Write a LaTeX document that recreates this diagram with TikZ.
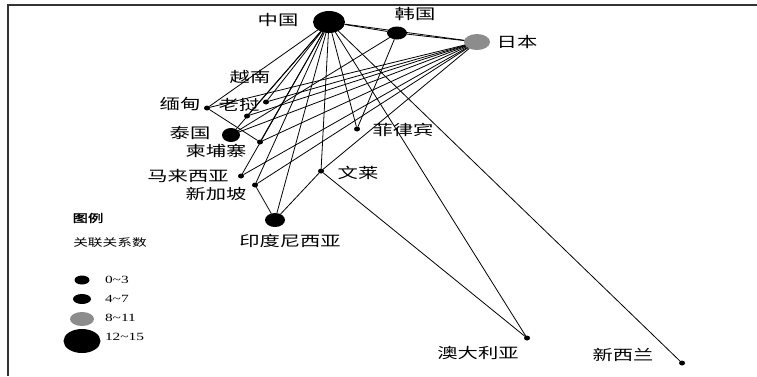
\documentclass[tikz,border=0pt]{standalone}
\usepackage{fontspec}
\setmainfont{Liberation Serif}
\newfontfamily\cjk[FakeStretch=1.4]{Noto Sans CJK SC}
\newfontfamily\cjkbold[FakeStretch=1.4,FakeBold=2]{Noto Sans CJK SC}
\newfontfamily\numf[FakeStretch=1.4]{Liberation Serif}
\usetikzlibrary{shapes.geometric}
\definecolor{jpgray}{RGB}{140,140,140}
\begin{document}
\begin{tikzpicture}[x=1pt,y=-1pt,
  every node/.style={inner sep=0pt,outer sep=0pt},
  blob/.style={ellipse,fill=black,draw=none},
  huge/.style={blob,minimum width=32pt,minimum height=22pt},
  mid/.style={blob,minimum width=19pt,minimum height=13pt},
  grayb/.style={blob,fill=jpgray,minimum width=26pt,minimum height=16pt},
  dot/.style={blob,minimum width=6pt,minimum height=5pt},
  lbl/.style={font=\cjk\fontsize{14.5}{15}\selectfont},
  leg/.style={font=\cjk\fontsize{10.5}{11}\selectfont},
  num/.style={font=\numf\fontsize{11}{12}\selectfont,anchor=west},
  link/.style={line width=0.8pt,black}]
\useasboundingbox (0,0) rectangle (757,376);
\fill[white] (0,0) rectangle (757,376);
% frame
\draw[line width=1.5pt,black!80] (8,376) -- (8,5) -- (757,5);
% nodes
\node[huge] (zg) at (329,22) {};
\node[mid,minimum width=20pt,minimum height=13pt] (hg) at (397,33) {};
\node[grayb] (rb) at (477,42) {};
\node[dot] (yn) at (266,102) {};
\node[dot] (lw) at (247,116) {};
\node[dot] (md) at (207,108) {};
\node[mid,minimum width=18pt,minimum height=14pt] (tg) at (231,135) {};
\node[dot] (jpz) at (260,142) {};
\node[dot] (mlxy) at (241,176) {};
\node[dot] (xjp) at (255,185) {};
\node[mid,minimum width=20pt,minimum height=14pt] (ydnxy) at (275,220) {};
\node[dot] (flb) at (357,129) {};
\node[dot] (wl) at (321,171) {};
\node[dot] (adly) at (527,338) {};
\node[dot] (xxl) at (682,363) {};
% connectors
\foreach \a/\b in {zg/hg,zg/rb,hg/rb,
  zg/md,zg/yn,zg/lw,zg/tg,zg/jpz,zg/mlxy,zg/xjp,zg/ydnxy,zg/wl,zg/flb,zg/adly,zg/xxl,
  rb/md,rb/yn,rb/lw,rb/tg,rb/jpz,rb/mlxy,rb/xjp,rb/wl,
  hg/tg,hg/flb,md/jpz,ydnxy/xjp,ydnxy/wl,wl/adly}
  \draw[link] (\a) -- (\b);
% labels
\node[lbl] (tzg) at (278,20) {中国};
\node[lbl] (thg) at (415,14) {韩国};
\node[lbl] (trb) at (517,42) {日本};
\node[lbl] (tyn) at (250,77) {越南};
\node[lbl] (tlw) at (239,105) {老挝};
\node[lbl] (tmd) at (180,104) {缅甸};
\node[lbl] (ttg) at (190,133) {泰国};
\node[lbl] (tjpz) at (216,151) {柬埔寨};
\node[lbl] (tmlxy) at (188,176) {马来西亚};
\node[lbl] (txjp) at (216,194) {新加坡};
\node[lbl] (tydnxy) at (290,241) {印度尼西亚};
\node[lbl] (tflb) at (403,130) {菲律宾};
\node[lbl] (twl) at (358,173) {文莱};
\node[lbl] (tadly) at (478,353) {澳大利亚};
\node[lbl] (txxl) at (623,355) {新西兰};
% legend
\node[font=\cjkbold\fontsize{11}{12}\selectfont] (lgt) at (88,218) {图例};
\node[leg] (lgs) at (110,243) {关联关系数};
\node[blob,minimum width=15pt,minimum height=9pt] (l1) at (82,280) {};
\node[blob,minimum width=18pt,minimum height=10pt] (l2) at (82,299) {};
\node[blob,fill=jpgray,minimum width=24pt,minimum height=14pt] (l3) at (82,319) {};
\node[blob,minimum width=37pt,minimum height=24pt] (l4) at (82,341) {};
\node[num] (n1) at (105,280) {0\textasciitilde3};
\node[num] (n2) at (105,299) {4\textasciitilde7};
\node[num] (n3) at (105,318) {8\textasciitilde11};
\node[num] (n4) at (105,337) {12\textasciitilde15};
\end{tikzpicture}
\end{document}
